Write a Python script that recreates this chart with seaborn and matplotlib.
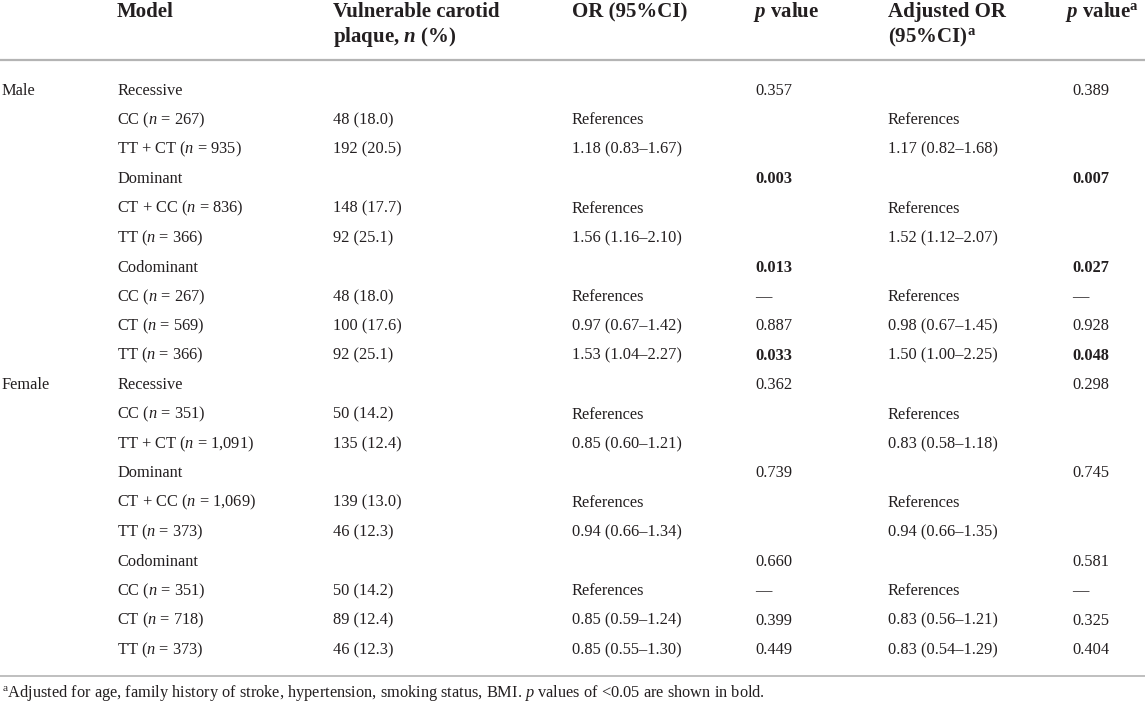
import matplotlib.pyplot as plt
import seaborn as sns

# table content, one list per column (20 body rows)
sex = ['Male', '', '', '', '', '', '', '', '', '',
       'Female', '', '', '', '', '', '', '', '', '']
model = ['Recessive', 'CC ($n$ = 267)', 'TT + CT ($n$ = 935)',
         'Dominant', 'CT + CC ($n$ = 836)', 'TT ($n$ = 366)',
         'Codominant', 'CC ($n$ = 267)', 'CT ($n$ = 569)', 'TT ($n$ = 366)',
         'Recessive', 'CC ($n$ = 351)', 'TT + CT ($n$ = 1,091)',
         'Dominant', 'CT + CC ($n$ = 1,069)', 'TT ($n$ = 373)',
         'Codominant', 'CC ($n$ = 351)', 'CT ($n$ = 718)', 'TT ($n$ = 373)']
plaque = ['', '48 (18.0)', '192 (20.5)', '', '148 (17.7)', '92 (25.1)',
          '', '48 (18.0)', '100 (17.6)', '92 (25.1)',
          '', '50 (14.2)', '135 (12.4)', '', '139 (13.0)', '46 (12.3)',
          '', '50 (14.2)', '89 (12.4)', '46 (12.3)']
odds = ['', 'References', '1.18 (0.83–1.67)', '', 'References', '1.56 (1.16–2.10)',
        '', 'References', '0.97 (0.67–1.42)', '1.53 (1.04–2.27)',
        '', 'References', '0.85 (0.60–1.21)', '', 'References', '0.94 (0.66–1.34)',
        '', 'References', '0.85 (0.59–1.24)', '0.85 (0.55–1.30)']
p_val = ['0.357', '', '', '0.003', '', '', '0.013', '—', '0.887', '0.033',
         '0.362', '', '', '0.739', '', '', '0.660', '—', '0.399', '0.449']
adj_odds = ['', 'References', '1.17 (0.82–1.68)', '', 'References', '1.52 (1.12–2.07)',
            '', 'References', '0.98 (0.67–1.45)', '1.50 (1.00–2.25)',
            '', 'References', '0.83 (0.58–1.18)', '', 'References', '0.94 (0.66–1.35)',
            '', 'References', '0.83 (0.56–1.21)', '0.83 (0.54–1.29)']
adj_p = ['0.389', '', '', '0.007', '', '', '0.027', '—', '0.928', '0.048',
         '0.298', '', '', '0.745', '', '', '0.581', '—', '0.325', '0.404']

headers = [('', ''), ('Model', ''), ('Vulnerable carotid', 'plaque, $\\mathbfit{n}$ (%)'),
           ('OR (95%CI)', ''), ('$\\mathbfit{p}$ value', ''),
           ('Adjusted OR', '(95%CI)$^{\\mathbf{a}}$'), ('$\\mathbfit{p}$ value$^{\\mathbf{a}}$', '')]
footnote = ('$^{\\mathrm{a}}$Adjusted for age, family history of stroke, hypertension, '
            'smoking status, BMI. $p$ values of <0.05 are shown in bold.')

columns = [sex, model, plaque, odds, p_val, adj_odds, adj_p]
col_x = [2, 117, 333, 572, 755, 888, 1072]
head_x = [2, 117, 333, 572, 753, 888, 1065]

sns.set_theme(style='white')
plt.rcParams['font.family'] = ['Liberation Serif', 'DejaVu Serif']
plt.rcParams['mathtext.fontset'] = 'custom'
plt.rcParams['mathtext.rm'] = 'Liberation Serif'
plt.rcParams['mathtext.it'] = 'Liberation Serif:italic'
plt.rcParams['mathtext.bf'] = 'Liberation Serif:bold'
plt.rcParams['mathtext.bfit'] = 'Liberation Serif:italic:bold'

txt = '#231f20'
fig = plt.figure(figsize=(11.45, 7.02), dpi=100)
ax = fig.add_axes([0, 0, 1, 1])
ax.set_xlim(0, 1145)
# rows are indexed 0..19; pixel 91 is row 0, 29.42 px per row
step = 29.42
ax.set_ylim((702 - 91) / step, -91 / step)
ax.axis('off')

def is_bold(s):
    try:
        return float(s) < 0.05
    except ValueError:
        return False

for x, col in zip(col_x, columns):
    for i, s in enumerate(col):
        if s:
            ax.text(x, i, s, ha='left', va='center', fontsize=11.8, color=txt,
                    fontweight='bold' if is_bold(s) else 'normal')

for x, (h1, h2) in zip(head_x, headers):
    if h1:
        ax.text(x, (12 - 91) / step, h1, ha='left', va='center', fontsize=15,
                fontweight='bold', color=txt)
    if h2:
        ax.text(x, (37 - 91) / step, h2, ha='left', va='center', fontsize=15,
                fontweight='bold', color=txt)

ax.axhline((60 - 91) / step, color='#b4b4b4', lw=1.6)
ax.axhline((676 - 91) / step, color='#b4b4b4', lw=1.2)
ax.text(2, (693 - 91) / step, footnote, ha='left', va='center', fontsize=11.8, color=txt)

fig.savefig('out.png', dpi=100)
